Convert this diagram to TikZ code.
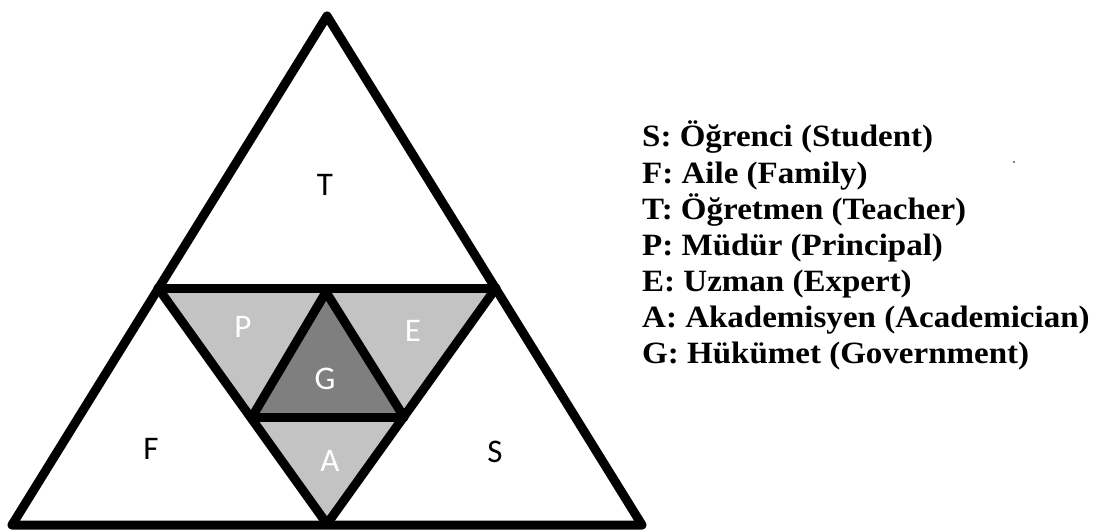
\documentclass[tikz,border=0pt]{standalone}
\usepackage{fontspec}
\setmainfont{Liberation Serif}
\newfontfamily\legfont{Liberation Serif Bold}[FakeStretch=1.065]
\newfontfamily\labfont{Carlito}
\definecolor{lightg}{HTML}{C3C3C3}
\definecolor{darkg}{HTML}{7F7F7F}
\begin{document}
\begin{tikzpicture}[x=1pt,y=-1pt,
  edge/.style={line width=9pt, line join=round, line cap=round},
  lab/.style={font=\labfont\fontsize{33}{33}\selectfont, inner sep=0pt},
  wlab/.style={lab, text=white},
  legend/.style={font=\legfont\fontsize{31}{36}\selectfont, anchor=base west, inner sep=0pt}]
\useasboundingbox (0,0) rectangle (1093,532);
% key points
\coordinate (top) at (327,16);
\coordinate (bl) at (12,525);
\coordinate (br) at (642,525);
\coordinate (ml) at (158,288);
\coordinate (mr) at (496,288);
\coordinate (gt) at (326,292);
\coordinate (gl) at (252,417);
\coordinate (gr) at (404,417);
\coordinate (bc) at (327,524);
% fills
\fill[lightg] (ml) -- (gt) -- (gl) -- cycle;
\fill[lightg] (gt) -- (mr) -- (gr) -- cycle;
\fill[lightg] (gl) -- (gr) -- (bc) -- cycle;
\fill[darkg] (gt) -- (gl) -- (gr) -- cycle;
% outlines
\draw[edge] (top) -- (bl) -- (br) -- cycle;
\draw[edge] (ml) -- (mr);
\draw[edge] (ml) -- (bc) -- (mr);
\draw[edge] (gl) -- (gt) -- (gr);
\draw[edge] (gl) -- (gr);
% labels
\node[lab] (T) at (325,185) {T};
\node[lab] (F) at (151,449) {F};
\node[lab] (S) at (495,452) {S};
\node[wlab] (P) at (243,327) {P};
\node[wlab] (E) at (413,331) {E};
\node[wlab] (G) at (325,379) {G};
\node[wlab] (A) at (330,461) {A};
% legend
\node[legend] (l1) at (642,147) {S: Öğrenci (Student)};
\node[legend] (l2) at (642,183) {F: Aile (Family)};
\node[legend] (l3) at (642,219) {T: Öğretmen (Teacher)};
\node[legend] (l4) at (642,255) {P: Müdür (Principal)};
\node[legend] (l5) at (642,291) {E: Uzman (Expert)};
\node[legend] (l6) at (642,327) {A: Akademisyen (Academician)};
\node[legend] (l7) at (642,363) {G: Hükümet (Government)};
\fill[gray] (1013,161) rectangle (1015,163);
\end{tikzpicture}
\end{document}
